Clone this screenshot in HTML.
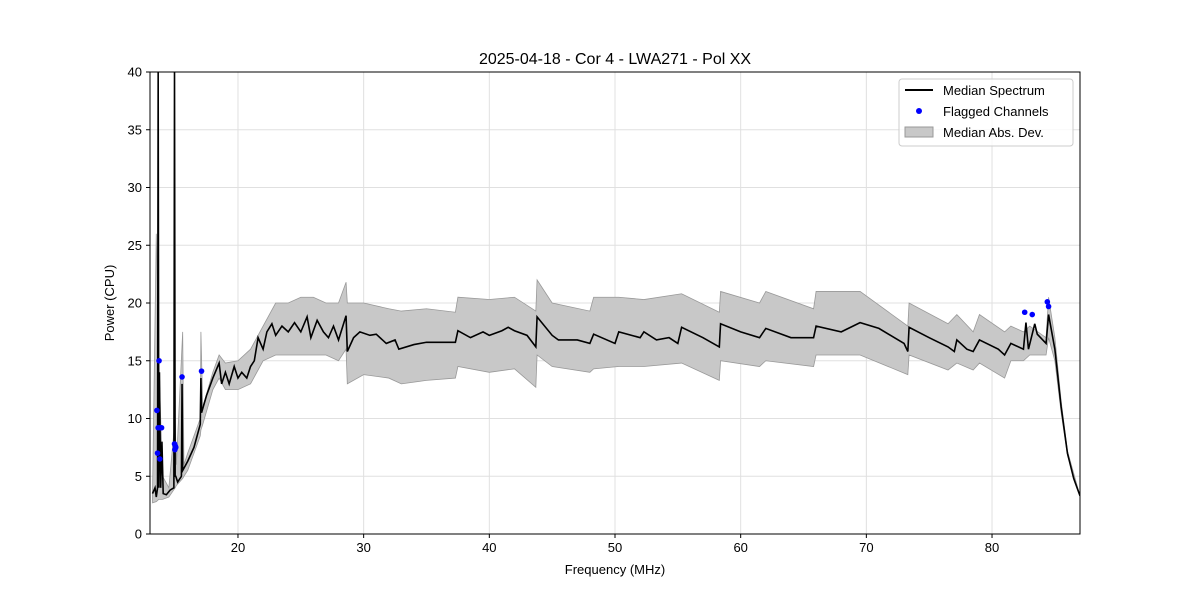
<!DOCTYPE html>
<html><head><meta charset="utf-8"><style>body{margin:0;background:#fff}svg{font-family:"Liberation Sans",sans-serif}</style></head>
<body>
<svg id="chart" width="1200" height="600" xmlns="http://www.w3.org/2000/svg">
<rect width="1200" height="600" fill="#fff"/>
<g id="grid"></g>
<g id="band"></g>
<g id="line"></g>
<g id="pts"></g>
<rect x="150" y="72" width="930" height="462" fill="none" stroke="#000" stroke-width="1"/>
<g id="axes"></g>
<text x="615" y="64" text-anchor="middle" font-size="16">2025-04-18 - Cor 4 - LWA271 - Pol XX</text>
<text x="615" y="574" text-anchor="middle" font-size="13">Frequency (MHz)</text>
<text transform="translate(114,303) rotate(-90)" text-anchor="middle" font-size="13">Power (CPU)</text>
<g>
<rect x="899" y="79" width="174" height="67" rx="3" fill="#fff" fill-opacity="0.8" stroke="#ccc"/>
<line x1="905" y1="90" x2="933" y2="90" stroke="#000" stroke-width="2"/>
<text x="943" y="95" font-size="13">Median Spectrum</text>
<circle cx="919" cy="111" r="3" fill="#0000ff"/>
<text x="943" y="116" font-size="13">Flagged Channels</text>
<rect x="905" y="127" width="28" height="10" fill="#c8c8c8" stroke="#999"/>
<text x="943" y="137" font-size="13">Median Abs. Dev.</text>
</g>
</svg>
<script>
const xTicks=[20,30,40,50,60,70,80];
const yTicks=[0,5,10,15,20,25,30,35,40];
const medF=[13.2,13.4,13.5,13.6,13.65,13.7,13.75,13.85,13.95,14.05,14.3,14.6,14.9,14.95,15.0,15.05,15.2,15.5,15.55,15.6,15.65,16,16.5,17,17.05,17.1,17.5,18,18.5,18.7,19,19.3,19.7,20,20.3,20.7,21,21.3,21.6,22,22.3,22.7,23,23.5,24,24.5,25,25.5,25.8,26.3,26.8,27.2,27.6,28,28.6,28.7,29.2,29.7,30.5,31,31.8,32.5,32.8,34,35,36,37.3,37.5,38.5,39.5,40,41,41.5,42,43,43.7,43.8,45,45.5,47,48,48.3,50,50.3,52,52.3,53.3,54.3,55,55.3,57,58.3,58.4,60,61.5,62,64,65.8,66,68,69.5,71,73,73.3,73.4,75,76.5,77,77.2,78,78.5,79,80.5,81,81.5,82.5,82.7,82.9,83.4,83.6,84.3,84.5,85,85.5,86,86.5,87];
const medV=[3.5,4,3.2,4,40,4,14,4,8,3.5,3.4,3.8,4,40,5,5,4.5,5,13,5.5,5.6,6.3,7.5,9.5,13.5,10.5,12,13.5,14.8,13,14,13,14.5,13.5,14,13.5,14.5,15,17,16,17.5,18.2,17.2,18,17.5,18.3,17.5,18.8,17,18.5,17.5,17,18,16.8,18.9,15.8,17,17.5,17.2,17.3,16.5,16.8,16,16.4,16.6,16.6,16.6,17.6,17,17.5,17.2,17.6,17.9,17.6,17.2,16.2,18.8,17.2,16.8,16.8,16.5,17.3,16.5,17.5,17,17.5,16.8,17,16.5,17.9,17,16.2,18.2,17.5,17,17.8,17,17,18,17.5,18.3,17.8,16.5,15.8,17.9,17,16.2,15.8,16.8,16,15.8,16.8,16,15.5,16.5,16,18.3,16,18.2,17.3,16.5,19,16,11,7,4.8,3.3];
const bandF=[13.2,13.5,13.7,14,14.5,15,15.1,15.6,15.7,16,17,17.05,17.2,18,18.5,19,20,21,22,23,24,25,26,27,28,28.6,28.7,30,32,33,35,37.3,37.5,40,42,43.7,43.8,45,48,48.3,50.3,52.3,55.3,58.3,58.4,61.5,62,65.8,66,69.5,73.3,73.4,76.5,77.2,78.5,79,81,81.5,82.5,83,84.3,84.5,85,85.5,86,87];
const bandHi=[3.5,26,15,5,4,10,6,17.5,6,7,10,17.5,11,14,15.5,14.8,15,16,18,20,20,20.5,20.5,20,20,21.8,20,20,19.5,19.3,19.5,19.2,20.5,20.3,20.5,19.3,22,20,19.3,20.5,20.5,20.3,20.8,19.2,21,20,21,19.5,21,21,18,20,18.2,19,17.5,19,17.5,18,17.5,18,17,20.5,17,11.5,7.2,3.3];
const bandLo=[2.7,2.8,3,3,3.2,4,4.2,4.8,5,5.5,8.5,9,9.5,12.5,13.5,12.5,12.5,13,15,15.5,15.5,15.5,15.5,15.5,15,16,13,13.8,13.5,13,13.3,13.5,14.5,14,14.3,12.7,15.5,14.5,14,14.3,14.5,14.5,14.8,13.3,15,14.5,15,14.5,15.5,15.5,13.8,15.5,14.2,14.8,14.2,14.8,13.5,15,15,15.5,15.5,17,15,10.5,6.8,3.3];
const flagF=[13.55,13.6,13.65,13.72,13.78,13.82,13.92,14.95,14.98,15.02,15.05,15.55,17.1,82.6,83.2,84.4,84.5];
const flagV=[10.7,7,9.2,15,6.5,9.2,9.2,7.8,7.3,7.6,7.5,13.6,14.1,19.2,19,20.1,19.7];
const NS='http://www.w3.org/2000/svg';
const X=f=>150+(f-13)*930/74;
const Y=v=>534-v*462/40;
function mk(t,a,p){const e=document.createElementNS(NS,t);for(const k in a)e.setAttribute(k,a[k]);p.appendChild(e);return e;}
const grid=document.getElementById('grid'),axes=document.getElementById('axes');
xTicks.forEach(t=>{const l=mk('line',{x1:X(t),x2:X(t),y1:72,y2:534,stroke:'#e0e0e0'},grid);


mk('line',{x1:X(t),x2:X(t),y1:534,y2:538,stroke:'#000'},axes);
const tx=mk('text',{x:X(t),y:552,'text-anchor':'middle','font-size':13},axes);tx.textContent=t;

});
yTicks.forEach(t=>{const l=mk('line',{x1:150,x2:1080,y1:Y(t),y2:Y(t),stroke:'#e0e0e0'},grid);


mk('line',{x1:146,x2:150,y1:Y(t),y2:Y(t),stroke:'#000'},axes);
const tx=mk('text',{x:142,y:Y(t)+4.5,'text-anchor':'end','font-size':13},axes);tx.textContent=t;

});
const cl=v=>Math.min(Math.max(v,-1),41);
let d='';bandF.forEach((f,i)=>{d+=(i?'L':'M')+X(f)+','+Y(cl(bandHi[i]));});
for(let i=bandF.length-1;i>=0;i--)d+='L'+X(bandF[i])+','+Y(cl(bandLo[i]));
const b=mk('path',{d:d+'Z',fill:'#c8c8c8',stroke:'#999','stroke-width':0.8},document.getElementById('band'));


let dl='';medF.forEach((f,i)=>{dl+=(i?'L':'M')+X(f)+','+Y(cl(medV[i]));});
const ln=mk('path',{d:dl,fill:'none',stroke:'#000','stroke-width':1.6,'clip-path':'url(#cp)'},document.getElementById('line'));


const defs=mk('defs',{},document.getElementById('chart'));const cp=mk('clipPath',{id:'cp'},defs);mk('rect',{x:150,y:72,width:930,height:462},cp);
flagF.forEach((f,i)=>{const c=mk('circle',{cx:X(f),cy:Y(flagV[i]),r:2.8,fill:'#0000ff'},document.getElementById('pts'));

});
</script>
</body></html>
